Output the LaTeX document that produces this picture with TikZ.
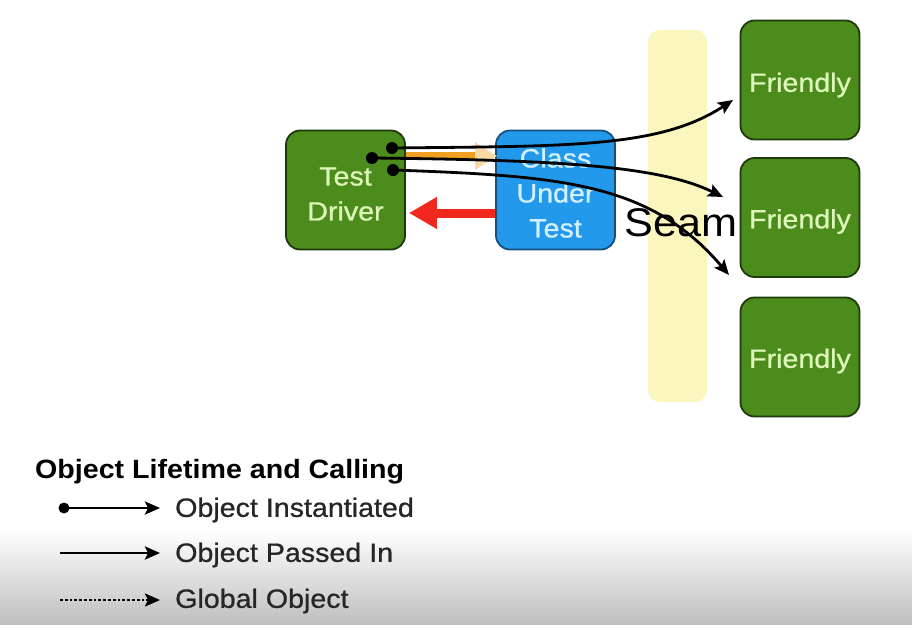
\documentclass[tikz,border=0pt]{standalone}
\usepackage{fontspec}
\setmainfont{Liberation Sans}[FakeStretch=1.08]
\newfontfamily\heavyfont{Liberation Sans}[FakeStretch=1.08, FakeBold=0.8]
\usetikzlibrary{arrows.meta,shapes.geometric}
\definecolor{boxgreen}{HTML}{4B8C1C}
\definecolor{boxedge}{HTML}{1E3A0A}
\definecolor{txtgreen}{HTML}{DDF7B8}
\definecolor{boxblue}{HTML}{2399EC}
\definecolor{blueedge}{HTML}{16507A}
\definecolor{txtblue}{HTML}{D2F0FF}
\definecolor{seamyellow}{HTML}{FAF6BE}
\definecolor{arrred}{HTML}{F0281E}
\definecolor{arrorange}{HTML}{F0A020}
\tikzset{
  gbox/.style={draw=boxedge, line width=1.8pt, fill=boxgreen, rounded corners=14pt,
    minimum width=119pt, minimum height=119pt, inner sep=0pt},
  bbox/.style={gbox, draw=blueedge, fill=boxblue},
  gtxt/.style={text=txtgreen, align=center, font=\heavyfont\fontsize{26.5}{35}\selectfont, inner sep=0pt},
  btxt/.style={gtxt, text=txtblue},
  conn/.style={line width=2.8pt, -{Stealth[length=15pt,width=13pt,inset=3pt]}},
  startdot/.style={circle, fill=black, minimum size=12pt, inner sep=0pt},
  legtxt/.style={anchor=west, font=\heavyfont\fontsize{26.5}{30}\selectfont, inner sep=0pt, text=black!85}
}
\begin{document}
\begin{tikzpicture}[x=1pt,y=-1pt]
\useasboundingbox (0,0) rectangle (912,624);
% background gradient at bottom
\fill[white] (0,0) rectangle (912,624);
\shade[top color=white, bottom color=black!25] (0,530) rectangle (912,624);
% seam
\fill[seamyellow, rounded corners=12pt] (648,30) rectangle (707,402);
% boxes
\node[gbox] (td) at (345.5,190) {};
\node[bbox] (cut) at (555.5,190) {};
\node[gbox] (f1) at (800,80) {};
\node[gbox] (f2) at (800,217.5) {};
\node[gbox] (f3) at (800,357) {};
\node[gtxt] (tdt) at ([yshift=-4pt]td.center) {Test\\Driver};
\node[btxt] (cutt) at ([yshift=-3pt]cut.center) {Class\\Under\\Test};
\node[gtxt] (f1t) at ([yshift=-5pt]f1.center) {Friendly};
\node[gtxt] (f2t) at ([yshift=-4pt]f2.center) {Friendly};
\node[gtxt] (f3t) at ([yshift=-4pt]f3.center) {Friendly};
% orange arrow (partly hidden)
\draw[arrorange, line width=8pt, -{Triangle[length=22pt,width=26pt,color=arrorange!40]}] (td.east |- 0,156) -- ([xshift=2pt]cut.west |- 0,156);
% red arrow
\draw[arrred, line width=9pt, -{Triangle[length=28pt,width=30pt]}] (cut.west |- 0,213) -- ([xshift=3pt]td.east |- 0,213);
% seam label
\node[font=\fontsize{40}{44}\selectfont, inner sep=0pt] (seam) at (681,223) {Seam};
% connectors
\node[startdot] (d1) at (392,148) {};
\node[startdot] (d2) at (372,158) {};
\node[startdot] (d3) at (393,170) {};
\coordinate (e1) at (733,100);
\coordinate (e2) at (723,197);
\coordinate (e3) at (729,275);
\draw[conn] (d1.center) .. controls (570,146) and (660,148) .. (e1);
\draw[conn] (d2.center) .. controls (560,160) and (660,166) .. (e2);
\draw[conn] (d3.center) .. controls (560,176) and (650,182) .. (e3);
% legend
\node[anchor=west, font=\bfseries\fontsize{26.5}{30}\selectfont, inner sep=0pt] (lt) at (35,472) {Object Lifetime and Calling};
\node[startdot, minimum size=11pt] (l1s) at (64,508) {};
\coordinate (l1e) at (160,508);
\draw[conn] (l1s.center) -- (l1e);
\node[legtxt] (l1t) at (175,510) {Object Instantiated};
\coordinate (l2s) at (60,553);
\coordinate (l2e) at (160,553);
\draw[conn] (l2s) -- (l2e);
\node[legtxt] (l2t) at (175,555) {Object Passed In};
\coordinate (l3s) at (60,600);
\coordinate (l3e) at (160,600);
\draw[conn, dotted, line width=2.2pt] (l3s) -- (l3e);
\node[legtxt] (l3t) at (175,601) {Global Object};
\end{tikzpicture}
\end{document}
